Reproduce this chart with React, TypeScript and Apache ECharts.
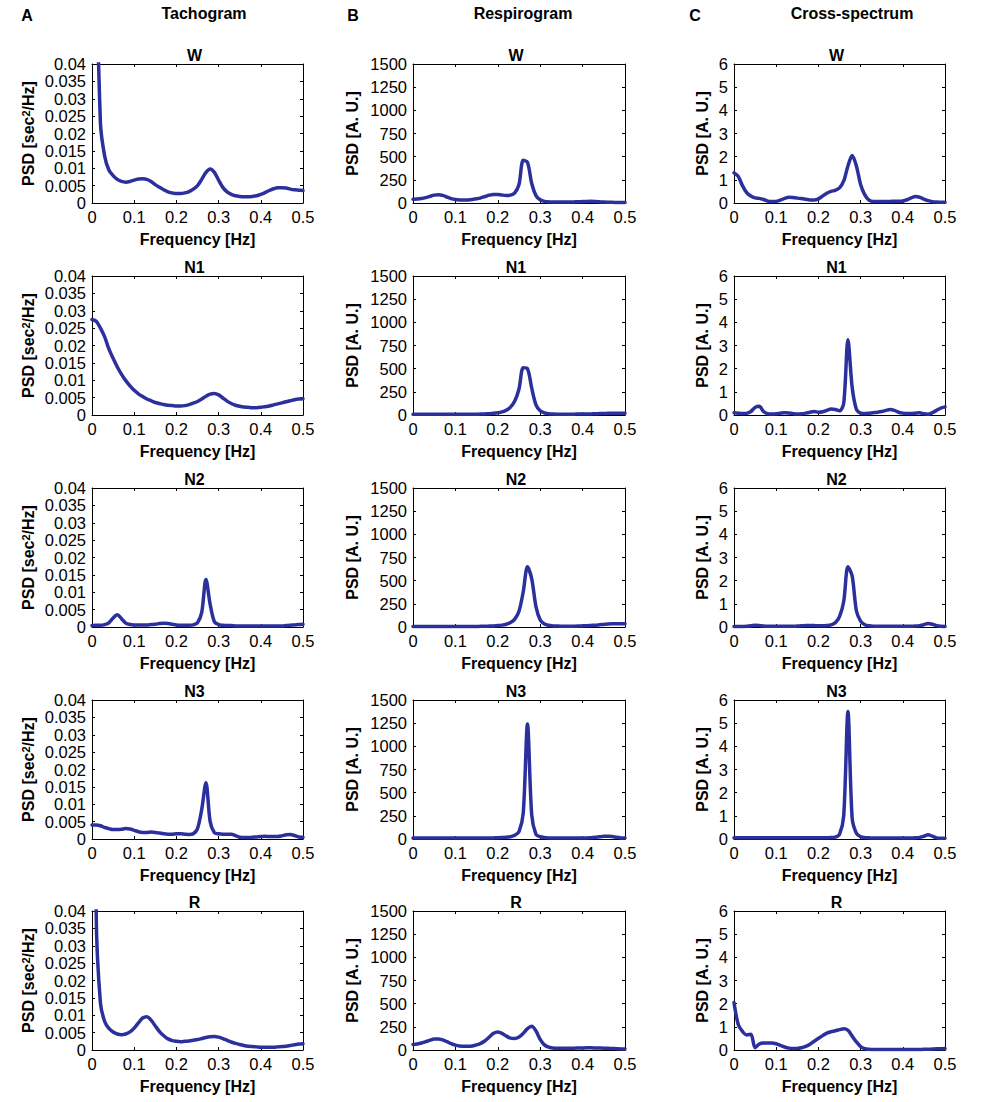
import React, { useEffect, useRef } from "react";
import * as echarts from "echarts";

const FREQ = [
  0, 0.01, 0.02, 0.03, 0.04, 0.05, 0.06, 0.07, 0.08, 0.09,
  0.1, 0.11, 0.12, 0.13, 0.14, 0.15, 0.16, 0.17, 0.18, 0.19,
  0.2, 0.21, 0.22, 0.23, 0.24, 0.25, 0.26, 0.27, 0.28, 0.29,
  0.3, 0.31, 0.32, 0.33, 0.34, 0.35, 0.36, 0.37, 0.38, 0.39,
  0.4, 0.41, 0.42, 0.43, 0.44, 0.45, 0.46, 0.47, 0.48, 0.49,
  0.5,
];

const STAGES = ["W", "N1", "N2", "N3", "R"];
const COL_HEADERS = ["Tachogram", "Respirogram", "Cross-spectrum"];
const COL_LETTERS = ["A", "B", "C"];
const Y_MAX = [0.04, 1500, 6];
const Y_INTERVAL = [0.005, 250, 1];
const X_NAME = "Frequency [Hz]";
const Y_NAMES = ["PSD [sec{sup|2}/Hz]", "PSD [A. U.]", "PSD [A. U.]"];

// Tachogram
const TACHO_W = [
  0.3, 0.08, 0.023, 0.0135, 0.0095, 0.0079, 0.0068, 0.0062, 0.006, 0.0062,
  0.0066, 0.0069, 0.007, 0.0068, 0.0062, 0.0053, 0.0045, 0.0038, 0.0032, 0.0029,
  0.0027, 0.0027, 0.0029, 0.0033, 0.004, 0.005, 0.0068, 0.0088, 0.0098, 0.0088,
  0.0066, 0.0045, 0.0032, 0.0025, 0.0021, 0.0019, 0.0018, 0.0018, 0.0019, 0.0021,
  0.0025, 0.003, 0.0036, 0.0041, 0.0044, 0.0044, 0.0043, 0.004, 0.0038, 0.0037,
  0.0036,
];
const TACHO_N1 = [
  0.0275, 0.027, 0.025, 0.0225, 0.019, 0.0163, 0.0138, 0.0117, 0.0099, 0.0084,
  0.0071, 0.0061, 0.0053, 0.0046, 0.0041, 0.0036, 0.0033, 0.003, 0.0028, 0.0027,
  0.0026, 0.0026, 0.0027, 0.003, 0.0034, 0.0039, 0.0046, 0.0054, 0.006, 0.0062,
  0.0058, 0.0049, 0.004, 0.0033, 0.0028, 0.0025, 0.0023, 0.0022, 0.0021, 0.0021,
  0.0022, 0.0024, 0.0026, 0.0029, 0.0032, 0.0035, 0.0038, 0.0041, 0.0044, 0.0046,
  0.0047,
];
const TACHO_N2 = [
  0.0004, 0.0005, 0.0005, 0.0007, 0.0012, 0.0026, 0.0035, 0.0024, 0.0011, 0.0007,
  0.0006, 0.0006, 0.0006, 0.0006, 0.0007, 0.0008, 0.001, 0.0011, 0.001, 0.0008,
  0.0006, 0.0005, 0.0005, 0.0005, 0.0006, 0.0012, 0.0042, 0.0137, 0.0065, 0.0015,
  0.0007, 0.0005, 0.0004, 0.0004, 0.0003, 0.0003, 0.0003, 0.0003, 0.0003, 0.0003,
  0.0003, 0.0003, 0.0003, 0.0003, 0.0003, 0.0003, 0.0004, 0.0005, 0.0006, 0.0007,
  0.0008,
];
const TACHO_N3 = [
  0.004, 0.004, 0.0038, 0.0033, 0.003, 0.0027, 0.0027, 0.0028, 0.003, 0.0029,
  0.0025, 0.0021, 0.0019, 0.0019, 0.002, 0.0019, 0.0017, 0.0015, 0.0014, 0.0014,
  0.0015, 0.0015, 0.0014, 0.0013, 0.0015, 0.003, 0.0085, 0.0162, 0.005, 0.0018,
  0.0015, 0.0014, 0.0014, 0.0014, 0.001, 0.0005, 0.0004, 0.0004, 0.0005, 0.0006,
  0.0007, 0.0008, 0.0007, 0.0007, 0.0007, 0.0009, 0.0012, 0.0013, 0.001, 0.0006,
  0.0005,
];
const TACHO_R = [
  0.4, 0.039, 0.0135, 0.0082, 0.0062, 0.0052, 0.0046, 0.0044, 0.0046, 0.0052,
  0.0063, 0.0078, 0.0092, 0.0096, 0.0086, 0.0069, 0.0053, 0.0041, 0.0032, 0.0027,
  0.0025, 0.0024, 0.0025, 0.0026, 0.0028, 0.003, 0.0033, 0.0036, 0.0038, 0.0039,
  0.0037, 0.0033, 0.0028, 0.0023, 0.0019, 0.0016, 0.0013, 0.0011, 0.001, 0.0009,
  0.0008, 0.0008, 0.0008, 0.0008, 0.0009, 0.001, 0.0011, 0.0013, 0.0015, 0.0017,
  0.0018,
];

// Respirogram
const RESP_W = [
  40, 42, 48, 58, 72, 85, 90, 82, 64, 47,
  37, 33, 32, 33, 38, 45, 55, 70, 85, 93,
  92, 86, 82, 85, 110, 200, 460, 440, 210, 80,
  35, 18, 12, 10, 10, 10, 10, 11, 12, 13,
  15, 17, 18, 16, 13, 10, 8, 7, 6, 5,
  5,
];
const RESP_N1 = [
  8, 8, 8, 8, 8, 8, 8, 8, 8, 8,
  8, 8, 8, 8, 8, 9, 10, 12, 14, 18,
  24, 34, 52, 85, 150, 280, 510, 500, 290, 110,
  45, 22, 14, 10, 9, 9, 9, 9, 9, 10,
  10, 11, 12, 13, 15, 17, 18, 20, 20, 20,
  20,
];
const RESP_N2 = [
  5, 5, 5, 5, 5, 5, 5, 5, 5, 5,
  5, 5, 5, 5, 5, 6, 7, 8, 10, 12,
  15, 20, 30, 48, 85, 170, 380, 650, 520, 220,
  75, 32, 18, 12, 10, 9, 9, 9, 9, 10,
  12, 14, 17, 20, 24, 28, 32, 35, 36, 36,
  35,
];
const RESP_N3 = [
  10, 10, 10, 10, 10, 10, 10, 10, 10, 10,
  10, 10, 10, 10, 10, 10, 10, 10, 11, 12,
  13, 15, 18, 25, 40, 80, 280, 1240, 260, 50,
  25, 16, 12, 10, 10, 10, 10, 10, 10, 10,
  10, 12, 14, 18, 24, 29, 30, 26, 18, 12,
  10,
];
const RESP_R = [
  60, 65, 75, 90, 105, 118, 120, 110, 90, 68,
  52, 43, 40, 40, 44, 55, 72, 100, 140, 180,
  195, 180, 150, 128, 124, 140, 180, 230, 255, 205,
  115, 55, 30, 22, 19, 18, 18, 19, 20, 21,
  22, 23, 23, 22, 21, 20, 18, 16, 14, 12,
  12,
];

// Cross-spectrum
const CROSS_W = [
  1.3, 1.15, 0.75, 0.45, 0.3, 0.22, 0.2, 0.15, 0.08, 0.06,
  0.07, 0.12, 0.2, 0.25, 0.24, 0.21, 0.19, 0.16, 0.13, 0.13,
  0.18, 0.3, 0.42, 0.5, 0.55, 0.65, 0.95, 1.6, 2.05, 1.6,
  0.8, 0.35, 0.12, 0.06, 0.06, 0.06, 0.07, 0.07, 0.08, 0.08,
  0.09, 0.14, 0.22, 0.28, 0.25, 0.17, 0.1, 0.06, 0.04, 0.03,
  0.03,
];
const CROSS_N1 = [
  0.1, 0.08, 0.06, 0.07, 0.15, 0.33, 0.38, 0.15, 0.05, 0.04,
  0.05, 0.08, 0.1, 0.09, 0.06, 0.04, 0.05, 0.08, 0.12, 0.15,
  0.12, 0.14, 0.2, 0.26, 0.24, 0.18, 0.5, 3.25, 1.2, 0.25,
  0.08, 0.06, 0.08, 0.1, 0.12, 0.15, 0.2, 0.24, 0.2, 0.12,
  0.08, 0.06, 0.06, 0.08, 0.1, 0.05, 0.03, 0.1, 0.2, 0.3,
  0.35,
];
const CROSS_N2 = [
  0.02, 0.02, 0.02, 0.03, 0.05, 0.08, 0.07, 0.04, 0.03, 0.03,
  0.03, 0.03, 0.03, 0.03, 0.03, 0.04, 0.05, 0.06, 0.07, 0.06,
  0.05, 0.05, 0.06, 0.09, 0.18, 0.45, 1.1, 2.6, 2.2, 0.7,
  0.25, 0.1, 0.05, 0.03, 0.03, 0.03, 0.03, 0.03, 0.03, 0.03,
  0.03, 0.03, 0.03, 0.04, 0.06, 0.1, 0.15, 0.12, 0.06, 0.03,
  0.02,
];
const CROSS_N3 = [
  0.05, 0.05, 0.05, 0.05, 0.05, 0.05, 0.05, 0.05, 0.05, 0.05,
  0.05, 0.05, 0.05, 0.05, 0.05, 0.05, 0.05, 0.05, 0.05, 0.05,
  0.05, 0.05, 0.05, 0.06, 0.08, 0.2, 1.0, 5.5, 0.9, 0.25,
  0.1, 0.06, 0.05, 0.04, 0.04, 0.04, 0.04, 0.04, 0.04, 0.04,
  0.04, 0.04, 0.04, 0.05, 0.07, 0.12, 0.18, 0.12, 0.05, 0.03,
  0.03,
];
const CROSS_R = [
  2.05, 1.1, 0.8, 0.65, 0.68, 0.1, 0.26, 0.3, 0.3, 0.3,
  0.27, 0.2, 0.13, 0.08, 0.06, 0.07, 0.1, 0.16, 0.25, 0.38,
  0.5, 0.62, 0.73, 0.79, 0.83, 0.88, 0.92, 0.85, 0.6, 0.35,
  0.15, 0.06, 0.03, 0.02, 0.02, 0.02, 0.02, 0.02, 0.02, 0.02,
  0.02, 0.02, 0.02, 0.02, 0.02, 0.03, 0.03, 0.04, 0.05, 0.05,
  0.06,
];

const PANELS = [
  [TACHO_W, TACHO_N1, TACHO_N2, TACHO_N3, TACHO_R],
  [RESP_W, RESP_N1, RESP_N2, RESP_N3, RESP_R],
  [CROSS_W, CROSS_N1, CROSS_N2, CROSS_N3, CROSS_R],
];

// layout
const COL_LEFT = [92, 413, 734];
const COL_WIDTH = [211, 212, 211];
const ROW_TOP = [64, 276, 488, 700, 911];
const PLOT_H = 139;
const Y_NAME_GAP = [56, 53, 24];
const HEADER_X = [204, 523, 852];
const LETTER_X = [27, 353, 695];

const FONT = "'Liberation Sans', Arial, Helvetica, sans-serif";
const LINE_COLOR = "#2c309c";
const TICK_FS = 16.5;
const NAME_FS = 16;

const fmt = (v: number) => String(parseFloat(Number(v).toFixed(4)));

function buildOption() {
  const grid: any[] = [];
  const xAxis: any[] = [];
  const yAxis: any[] = [];
  const series: any[] = [];
  const graphic: any[] = [];

  const axisLine = { show: true, onZero: false, lineStyle: { color: "#000", width: 1 } };
  const axisTick = { show: true, inside: true, length: 3, lineStyle: { color: "#000", width: 1 } };
  const nameStyle = { fontSize: NAME_FS, fontWeight: "bold", color: "#000", fontFamily: FONT };

  for (let c = 0; c < 3; c++) {
    for (let r = 0; r < 5; r++) {
      const g = grid.length;
      grid.push({
        left: COL_LEFT[c],
        top: ROW_TOP[r],
        width: COL_WIDTH[c],
        height: PLOT_H,
        containLabel: false,
      });
      xAxis.push({
        gridIndex: g,
        type: "value",
        position: "bottom",
        min: 0,
        max: 0.5,
        interval: 0.1,
        axisLine,
        axisTick,
        splitLine: { show: false },
        axisLabel: { show: true, color: "#000", fontSize: TICK_FS, margin: 5, fontFamily: FONT, formatter: fmt },
        name: X_NAME,
        nameLocation: "middle",
        nameGap: 28,
        nameTextStyle: nameStyle,
      });
      xAxis.push({
        gridIndex: g,
        type: "value",
        position: "top",
        min: 0,
        max: 0.5,
        interval: 0.1,
        axisLine,
        axisTick,
        splitLine: { show: false },
        axisLabel: { show: false },
      });
      yAxis.push({
        gridIndex: g,
        type: "value",
        position: "left",
        min: 0,
        max: Y_MAX[c],
        interval: Y_INTERVAL[c],
        axisLine,
        axisTick,
        splitLine: { show: false },
        axisLabel: { show: true, color: "#000", fontSize: TICK_FS, margin: 6, fontFamily: FONT, formatter: fmt },
        name: Y_NAMES[c],
        nameLocation: "middle",
        nameGap: Y_NAME_GAP[c],
        nameTextStyle: {
          ...nameStyle,
          rich: {
            sup: { fontSize: 11, fontWeight: "bold", color: "#000", fontFamily: FONT, verticalAlign: "top" },
          },
        },
      });
      yAxis.push({
        gridIndex: g,
        type: "value",
        position: "right",
        min: 0,
        max: Y_MAX[c],
        interval: Y_INTERVAL[c],
        axisLine,
        axisTick,
        splitLine: { show: false },
        axisLabel: { show: false },
      });

      const vals = PANELS[c][r];
      series.push({
        type: "line",
        xAxisIndex: 2 * g,
        yAxisIndex: 2 * g,
        data: FREQ.map((f, i) => [f, vals[i]]),
        showSymbol: false,
        symbol: "none",
        smooth: 0.3,
        clip: true,
        lineStyle: { color: LINE_COLOR, width: 3.5, join: "round", cap: "round" },
        z: 3,
      });

      graphic.push({
        type: "text",
        x: COL_LEFT[c] + COL_WIDTH[c] / 2 - 3,
        y: ROW_TOP[r] - 9,
        style: {
          text: STAGES[r],
          fontSize: NAME_FS,
          fontWeight: "bold",
          fontFamily: FONT,
          fill: "#000",
          align: "center",
          verticalAlign: "middle",
        },
      });
    }
    graphic.push({
      type: "text",
      x: HEADER_X[c],
      y: 13,
      style: {
        text: COL_HEADERS[c],
        fontSize: NAME_FS,
        fontWeight: "bold",
        fontFamily: FONT,
        fill: "#000",
        align: "center",
        verticalAlign: "middle",
      },
    });
    graphic.push({
      type: "text",
      x: LETTER_X[c],
      y: 15,
      style: {
        text: COL_LETTERS[c],
        fontSize: NAME_FS,
        fontWeight: "bold",
        fontFamily: FONT,
        fill: "#000",
        align: "center",
        verticalAlign: "middle",
      },
    });
  }

  return {
    animation: false,
    backgroundColor: "#ffffff",
    textStyle: { fontFamily: FONT },
    grid,
    xAxis,
    yAxis,
    series,
    graphic,
  };
}

export default function App() {
  const ref = useRef<HTMLDivElement | null>(null);
  useEffect(() => {
    if (!ref.current) return;
    const chart = echarts.init(ref.current, undefined, { renderer: "svg" });
    chart.setOption(buildOption() as any);
    return () => chart.dispose();
  }, []);
  return (
    <div
      ref={ref}
      style={{ position: "absolute", left: 0, top: 0, width: 992, height: 1102, background: "#fff" }}
    />
  );
}
